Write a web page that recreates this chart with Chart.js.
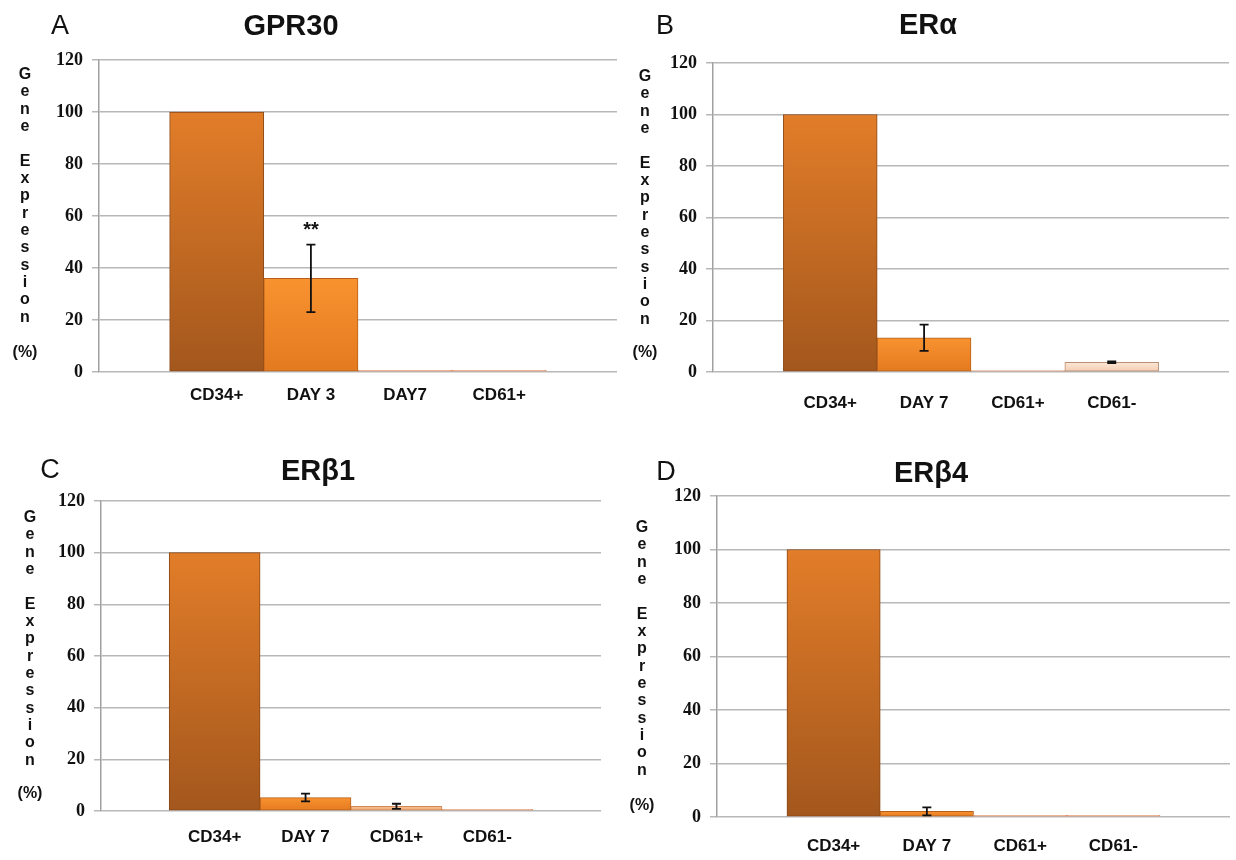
<!DOCTYPE html>
<html>
<head>
<meta charset="utf-8">
<script src="https://cdn.jsdelivr.net/npm/chart.js@4.4.1/dist/chart.umd.min.js"></script>
<style>
  body { margin: 0; background: #fff; }
  #wrap { position: relative; width: 1236px; height: 860px; overflow: hidden; font-family: "Liberation Sans", Arial, sans-serif; color: #111; }
  canvas { position: absolute; }
  .letter { position: absolute; font-size: 27px; transform: translate(-50%, -50%); }
  .title { position: absolute; font-size: 29px; font-weight: bold; transform: translate(-50%, -50%); white-space: nowrap; }
  .ylab { position: absolute; width: 20px; margin-left: -10px; text-align: center; font-size: 16px; font-weight: bold; line-height: 17.35px; }
  .pct { position: absolute; font-size: 16px; font-weight: bold; transform: translate(-50%, -50%); }
</style>
</head>
<body>
<div id="wrap">
  <canvas id="chartA" width="618" height="430" style="left:0;top:0"></canvas>
  <canvas id="chartB" width="618" height="430" style="left:618px;top:0"></canvas>
  <canvas id="chartC" width="618" height="430" style="left:0;top:430px"></canvas>
  <canvas id="chartD" width="618" height="430" style="left:618px;top:430px"></canvas>

  <div class="letter" style="left:60px;top:25px">A</div>
  <div class="title" style="left:291px;top:25px">GPR30</div>
  <div class="letter" style="left:665px;top:25px">B</div>
  <div class="title" style="left:928px;top:24px">ERα</div>
  <div class="letter" style="left:50px;top:469px">C</div>
  <div class="title" style="left:318px;top:470px">ERβ1</div>
  <div class="letter" style="left:666px;top:471px">D</div>
  <div class="title" style="left:931px;top:472px">ERβ4</div>

  <div class="ylab" style="left:25px;top:65px">G<br>e<br>n<br>e<br><br>E<br>x<br>p<br>r<br>e<br>s<br>s<br>i<br>o<br>n</div>
  <div class="pct" style="left:25px;top:352px">(%)</div>
  <div class="ylab" style="left:645px;top:67px">G<br>e<br>n<br>e<br><br>E<br>x<br>p<br>r<br>e<br>s<br>s<br>i<br>o<br>n</div>
  <div class="pct" style="left:645px;top:352px">(%)</div>
  <div class="ylab" style="left:30px;top:508px">G<br>e<br>n<br>e<br><br>E<br>x<br>p<br>r<br>e<br>s<br>s<br>i<br>o<br>n</div>
  <div class="pct" style="left:30px;top:793px">(%)</div>
  <div class="ylab" style="left:642px;top:518px">G<br>e<br>n<br>e<br><br>E<br>x<br>p<br>r<br>e<br>s<br>s<br>i<br>o<br>n</div>
  <div class="pct" style="left:642px;top:805px">(%)</div>
</div>

<script>
// y axis ticks shared by all four panels
var yTicks = [0, 20, 40, 60, 80, 100, 120];

// A - GPR30
var aLabels = ["CD34+", "DAY 3", "DAY7", "CD61+"];
var aValues = [100, 36, 0.6, 0.6];
var aErrors = [0, 13, 0, 0];
var aStars = ["", "**", "", ""];

// B - ERα
var bLabels = ["CD34+", "DAY 7", "CD61+", "CD61-"];
var bValues = [100, 13.3, 0.6, 3.8];
var bErrors = [0, 5.1, 0, 0.3];

// C - ERβ1
var cLabels = ["CD34+", "DAY 7", "CD61+", "CD61-"];
var cValues = [100, 5.2, 1.8, 0.6];
var cErrors = [0, 1.5, 1.0, 0];

// D - ERβ4
var dLabels = ["CD34+", "DAY 7", "CD61+", "CD61-"];
var dValues = [100, 2.1, 0.6, 0.6];
var dErrors = [0, 1.5, 0, 0];

// fill top, fill bottom, border - one style per bar position
var barStyles = [
  ["#e27d29", "#a3571d", "#8a4816"],
  ["#f8922f", "#e47a20", "#b6601b"],
  ["#f7c194", "#eea36b", "#d2875a"],
  ["#fde7d6", "#f2cbb0", "#b98f73"]
];

function barFill(ctx) {
  var st = barStyles[ctx.dataIndex];
  var chart = ctx.chart;
  if (!chart.chartArea || !ctx.raw) return st[0];
  var y = chart.scales.y;
  var top = y.getPixelForValue(ctx.raw.y);
  var bot = y.getPixelForValue(0);
  if (bot - top < 3) return "#e8a27c";
  var g = chart.ctx.createLinearGradient(0, top, 0, bot);
  g.addColorStop(0, st[0]);
  g.addColorStop(1, st[1]);
  return g;
}

function barBorder(ctx) {
  var chart = ctx.chart;
  if (chart.chartArea && ctx.raw) {
    var y = chart.scales.y;
    if (y.getPixelForValue(0) - y.getPixelForValue(ctx.raw.y) < 3) return "#e09068";
  }
  return barStyles[ctx.dataIndex][2];
}

var errorBars = {
  id: "errorBars",
  afterDatasetsDraw: function (chart, args, opts) {
    var meta = chart.getDatasetMeta(0);
    var y = chart.scales.y;
    var c = chart.ctx;
    c.save();
    c.strokeStyle = "#111";
    c.fillStyle = "#111";
    c.lineWidth = 1.8;
    opts.values.forEach(function (v, i) {
      var e = opts.errors[i];
      var x = meta.data[i].x;
      if (e > 0) {
        var t = y.getPixelForValue(v + e);
        var b = y.getPixelForValue(v - e);
        c.beginPath();
        c.moveTo(x, t); c.lineTo(x, b);
        c.moveTo(x - 4.5, t); c.lineTo(x + 4.5, t);
        c.moveTo(x - 4.5, b); c.lineTo(x + 4.5, b);
        c.stroke();
      }
      if (opts.stars && opts.stars[i]) {
        c.font = "bold 20px 'Liberation Sans'";
        c.textAlign = "center";
        c.textBaseline = "middle";
        c.fillText(opts.stars[i], x, y.getPixelForValue(v + e) - 14);
      }
    });
    c.restore();
  }
};

function makePanel(id, labels, values, errors, stars, L) {
  var ctx = document.getElementById(id).getContext("2d");
  return new Chart(ctx, {
    type: "bar",
    data: {
      datasets: [{
        data: values.map(function (v, i) { return { x: i + 1, y: v }; }),
        backgroundColor: barFill,
        borderColor: barBorder,
        borderWidth: 1,
        borderSkipped: false,
        categoryPercentage: 1,
        barPercentage: 1
      }]
    },
    options: {
      responsive: false,
      animation: false,
      layout: { padding: { left: 0, top: L.top, right: L.right, bottom: 0 } },
      plugins: {
        legend: { display: false },
        tooltip: { enabled: false },
        errorBars: { values: values, errors: errors, stars: stars }
      },
      scales: {
        x: {
          type: "linear",
          min: -0.25,
          max: 5.25,
          offset: false,
          grid: { display: false, drawTicks: false },
          border: { display: false },
          afterBuildTicks: function (s) { s.ticks = labels.map(function (l, i) { return { value: i + 1 }; }); },
          afterFit: function (s) { s.height = L.xh; },
          ticks: {
            autoSkip: false,
            maxRotation: 0,
            padding: L.xpad,
            color: "#111",
            font: { family: "Liberation Sans", weight: "bold", size: 17 },
            callback: function (v) { return labels[v - 1]; }
          }
        },
        y: {
          min: 0,
          max: 120,
          afterBuildTicks: function (s) { s.ticks = yTicks.map(function (v) { return { value: v }; }); },
          afterFit: function (s) { s.width = L.yw; },
          grid: { color: "#b8b8b8", lineWidth: 1.5, tickLength: 7 },
          border: { color: "#a0a0a0", width: 1.5 },
          ticks: {
            padding: 9,
            color: "#111",
            font: { family: "Liberation Serif", weight: "bold", size: 18 }
          }
        }
      }
    },
    plugins: [errorBars]
  });
}

makePanel("chartA", aLabels, aValues, aErrors, aStars, { top: 60, right: 1, yw: 99, xh: 58, xpad: 13 });
makePanel("chartB", bLabels, bValues, bErrors, null, { top: 63, right: 7, yw: 95, xh: 58, xpad: 21 });
makePanel("chartC", cLabels, cValues, cErrors, null, { top: 71, right: 17, yw: 101, xh: 49, xpad: 16 });
makePanel("chartD", dLabels, dValues, dErrors, null, { top: 66, right: 6, yw: 99, xh: 43, xpad: 19 });
</script>
</body>
</html>
